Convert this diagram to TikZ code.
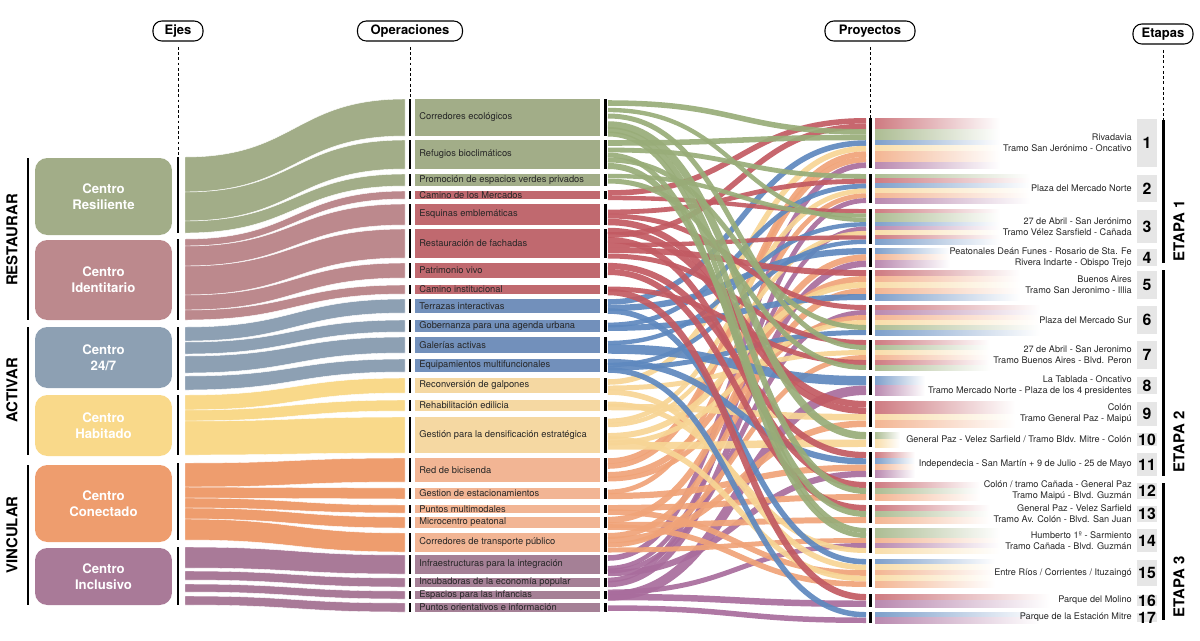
\documentclass[tikz,border=0pt]{standalone}
\usepackage{fontspec}
\setmainfont{TeX Gyre Heros}
\usetikzlibrary{positioning}

% colores de los ejes
\definecolor{ejeG}{HTML}{A2AD88}
\definecolor{ejeR}{HTML}{BC898D}
\definecolor{ejeB}{HTML}{8DA0B3}
\definecolor{ejeY}{HTML}{F9D98A}
\definecolor{ejeO}{HTML}{EE9D6E}
\definecolor{ejeP}{HTML}{A97A98}
% colores de las operaciones
\definecolor{opG}{HTML}{A2AD88}
\definecolor{opR}{HTML}{C0696F}
\definecolor{opB}{HTML}{7290BB}
\definecolor{opY}{HTML}{F5D8A2}
\definecolor{opO}{HTML}{F2B594}
\definecolor{opP}{HTML}{A58096}
% colores de los enlaces
\definecolor{lkG}{HTML}{98AC78}
\definecolor{lkR}{HTML}{C25A62}
\definecolor{lkB}{HTML}{5E88BE}
\definecolor{lkY}{HTML}{F7D595}
\definecolor{lkO}{HTML}{F0A378}
\definecolor{lkP}{HTML}{A86C9C}
\definecolor{numgris}{HTML}{E6E6E6}

\tikzset{
  header/.style={draw, rounded corners=5pt, line width=0.6pt, inner sep=0pt,
    minimum height=0.4cm, font=\fontsize{7.4}{8}\selectfont\bfseries},
  guia/.style={dash pattern=on 1.6pt off 1.4pt, line width=0.5pt},
  barra/.style={line width=1.7pt},
  ejebox/.style={rounded corners=7pt, inner sep=0pt, minimum width=2.74cm,
    text=white, align=center, font=\fontsize{7.5}{9}\selectfont\bfseries},
  grupo/.style={rotate=90, inner sep=0pt, font=\fontsize{8.5}{9}\selectfont\bfseries},
  optext/.style={anchor=west, inner sep=0pt, text=black!85, font=\fontsize{5.3}{6}\selectfont},
  proytext/.style={anchor=east, align=right, inner sep=0pt, text=black!85,
    font=\fontsize{5.2}{6.3}\selectfont},
  numero/.style={inner sep=0pt, font=\fontsize{9}{9}\selectfont\bfseries},
  enlace/.style={opacity=0.92},
}

\begin{document}
\begin{tikzpicture}[x=0.02cm, y=-0.02cm]
  \useasboundingbox (0,0) rectangle (1200,640);

  % titulos
  \node[header, minimum width=1cm] (hEjes) at (178,31) {Ejes};
  \node[header, minimum width=2.1cm] (hOper) at (410,31) {Operaciones};
  \node[header, minimum width=1.8cm] (hProy) at (870,31) {Proyectos};
  \node[header, minimum width=1.2cm] (hEtap) at (1163,34) {Etapas};
  \coordinate (ejeTop) at (178,157);
  \coordinate (opTop) at (410,99);
  \coordinate (proyTop) at (870,118);
  \coordinate (etapTop) at (1163,120);
  \draw[guia] ([yshift=-3pt]hEjes.south) -- (ejeTop);
  \draw[guia] ([yshift=-3pt]hOper.south) -- (opTop);
  \draw[guia] ([yshift=-3pt]hProy.south) -- (proyTop);
  \draw[guia] ([yshift=-3pt]hEtap.south) -- (etapTop);

  % grupos
  \node[grupo] (restaurar) at (12,240) {RESTAURAR};
  \node[grupo] (activar) at (12,390) {ACTIVAR};
  \node[grupo] (vincular) at (12,535) {VINCULAR};
  \draw[barra, line width=1.3pt] (28,158) -- (28,320) (28,327) -- (28,455) (28,465) -- (28,605);

  % flujos ejes -> operaciones
  \foreach \col/\la/\lb/\ra/\rb in {
    ejeG/157/192/99/136, ejeG/192/221/140/169, ejeG/221/233/174/186,
    ejeR/239/246/191/199, ejeR/246/266/204/225, ejeR/266/295/229/258,
    ejeR/295/310/263/278, ejeR/310/320/285/294,
    ejeB/327/341/299/313, ejeB/342/354/320/332, ejeB/356/373/337/353, ejeB/376/390/359/372,
    ejeY/395/410/378/393, ejeY/410/421/400/411, ejeY/421/455/417/453,
    ejeO/463/487/458/482, ejeO/487/498/488/499, ejeO/498/508/505/513,
    ejeO/508/519/517/528, ejeO/519/540/533/552,
    ejeP/547/568/555/574, ejeP/571/580/578/587, ejeP/584/592/591/599, ejeP/596/605/603/612}
    \filldraw[fill=\col, draw=white, line width=0.25pt]
      (185,\la) .. controls (295,\la) and (295,\ra) .. (405,\ra) -- (405,\rb)
      .. controls (295,\rb) and (295,\lb) .. (185,\lb) -- cycle;

  % ejes
  \node[ejebox, fill=ejeG, minimum height=1.54cm] (resiliente) at (103.5,196.5) {Centro\\Resiliente};
  \node[ejebox, fill=ejeR, minimum height=1.6cm] (identitario) at (103.5,280) {Centro\\Identitario};
  \node[ejebox, fill=ejeB, minimum height=1.22cm] (veinticuatro) at (103.5,357.5) {Centro\\24/7};
  \node[ejebox, fill=ejeY, minimum height=1.22cm] (habitado) at (103.5,425.5) {Centro\\Habitado};
  \node[ejebox, fill=ejeO, minimum height=1.54cm] (conectado) at (103.5,503.5) {Centro\\Conectado};
  \node[ejebox, fill=ejeP, minimum height=1.14cm] (inclusivo) at (103.5,576.5) {Centro\\Inclusivo};
  \draw[barra] (178,157) -- (178,233) (178,239) -- (178,320) (178,327) -- (178,390)
    (178,395) -- (178,455) (178,463) -- (178,540) (178,547) -- (178,605);

  % operaciones
  \foreach \yt/\yb/\col/\txt [count=\i] in {
    99/136/opG/Corredores ecológicos,
    140/169/opG/Refugios bioclimáticos,
    174/186/opG/Promoción de espacios verdes privados,
    191/199/opR/Camino de los Mercados,
    204/225/opR/Esquinas emblemáticas,
    229/258/opR/Restauración de fachadas,
    263/278/opR/Patrimonio vivo,
    285/294/opR/Camino institucional,
    299/313/opB/Terrazas interactivas,
    320/332/opB/Gobernanza para una agenda urbana,
    337/353/opB/Galerías activas,
    359/372/opB/Equipamientos multifuncionales,
    378/393/opY/Reconversión de galpones,
    400/411/opY/Rehabilitación edilicia,
    417/453/opY/Gestión para la densificación estratégica,
    458/482/opO/Red de bicisenda,
    488/499/opO/Gestion de estacionamientos,
    505/513/opO/Puntos multimodales,
    517/528/opO/Microcentro peatonal,
    533/552/opO/Corredores de transporte público,
    555/574/opP/Infraestructuras para la integración,
    578/587/opP/Incubadoras de la economía popular,
    591/599/opP/Espacios para las infancias,
    603/612/opP/Puntos orientativos e información}
  {
    \fill[\col] (415,\yt) rectangle (600,\yb);
    \draw[barra] (410,\yt) -- (410,\yb) (605,\yt) -- (605,\yb);
    \node[optext] (op\i) at (419,{(\yt+\yb)/2}) {\txt};
  }

  % proyectos con sus enlaces
  \foreach \yt/\yb/\fade/\n/\txt/\links [count=\j] in {
    118/168/1000/9/{Rivadavia\\Tramo San Jerónimo - Oncativo}/{lkR/193,lkR/235,lkG/103,lkG/143,lkB/302,lkY/382,lkO/461,lkO/466,lkP/558},
    174/203/1030/6/{Plaza del Mercado Norte}/{lkG/150,lkR/212,lkB/325,lkY/421,lkO/492,lkP/580},
    209/244/1000/8/{27 de Abril - San Jerónimo\\Tramo Vélez Sarsfield - Cañada}/{lkR/198,lkG/176,lkG/110,lkB/343,lkP/568,lkY/425,lkR/245,lkB/365},
    248/267/950/3/{Peatonales Deán Funes - Rosario de Sta. Fe\\Rivera Indarte - Obispo Trejo}/{lkB/308,lkO/520,lkP/584},
    270/300/1020/5/{Buenos Aires\\Tramo San Jeronimo - Illia}/{lkR/250,lkO/475,lkY/436,lkO/536,lkB/328},
    305/335/1040/6/{Plaza del Mercado Sur}/{lkR/216,lkP/571,lkO/479,lkY/443,lkG/160,lkB/368},
    340/370/990/6/{27 de Abril - San Jeronimo\\Tramo Buenos Aires - Blvd. Peron}/{lkR/256,lkG/116,lkY/388,lkO/545,lkR/289,lkG/181},
    376/395/925/2/{La Tablada - Oncativo\\Tramo Mercado Norte - Plaza de los 4 presidentes}/{lkB/349,lkP/596},
    401/427/1015/4/{Colón\\Tramo General Paz - Maipú}/{lkR/222,lkR/231,lkY/407,lkO/540},
    432/447/900/2/{General Paz - Velez Sarfield / Tramo Bldv. Mitre - Colón}/{lkG/125,lkY/446},
    452/477/915/4/{Independecia - San Martín + 9 de Julio - 25 de Mayo}/{lkR/266,lkB/362,lkO/496,lkP/573},
    482/500/980/3/{Colón / tramo Cañada - General Paz\\Tramo Maipú - Blvd. Guzmán}/{lkR/240,lkG/130,lkO/508},
    505/523/990/3/{General Paz - Velez Sarfield\\Tramo Av. Colón - Blvd. San Juan}/{lkR/272,lkG/166,lkO/525},
    528/553/1000/5/{Humberto 1º - Sarmiento\\Tramo Cañada - Blvd. Guzmán}/{lkG/134,lkG/155,lkO/550,lkP/592,lkY/404},
    559/587/995/5/{Entre Ríos / Corrientes / Ituzaingó}/{lkB/311,lkY/392,lkO/512,lkY/439,lkO/527},
    594/607/1050/2/{Parque del Molino}/{lkR/292,lkP/597},
    612/623/1040/2/{Parque de la Estación Mitre}/{lkB/370,lkP/608}}
  {
    \pgfmathsetmacro\st{(\yb-\yt)/\n}
    \pgfmathsetmacro\lw{\st*0.5669}
    \foreach \col/\ya [count=\k] in \links {
      \pgfmathsetmacro\yc{\yt+(\k-0.5)*\st}
      \draw[enlace, \col, line width=\lw pt] (608,\ya) .. controls (738,\ya) and (738,\yc) .. (866,\yc);
      \shade[left color=\col!80, right color=white] (875,{\yc-\st/2}) rectangle (\fade,{\yc+\st/2});
    }
    \draw[barra] (870,\yt) -- (870,\yb);
    \fill[numgris] (1137,{\yt+1}) rectangle (1157,{\yb-1});
    \node[numero] (num\j) at (1147,{(\yt+\yb)/2}) {\j};
    \node[proytext] (proy\j) at (1132,{(\yt+\yb)/2}) {\txt};
  }

  % etapas
  \draw[barra] (1163,120) -- (1163,263) (1163,270) -- (1163,476) (1163,483) -- (1163,620);
  \node[grupo] (etapa1) at (1179,231) {ETAPA 1};
  \node[grupo] (etapa2) at (1179,442) {ETAPA 2};
  \node[grupo] (etapa3) at (1179,587) {ETAPA 3};
\end{tikzpicture}
\end{document}
